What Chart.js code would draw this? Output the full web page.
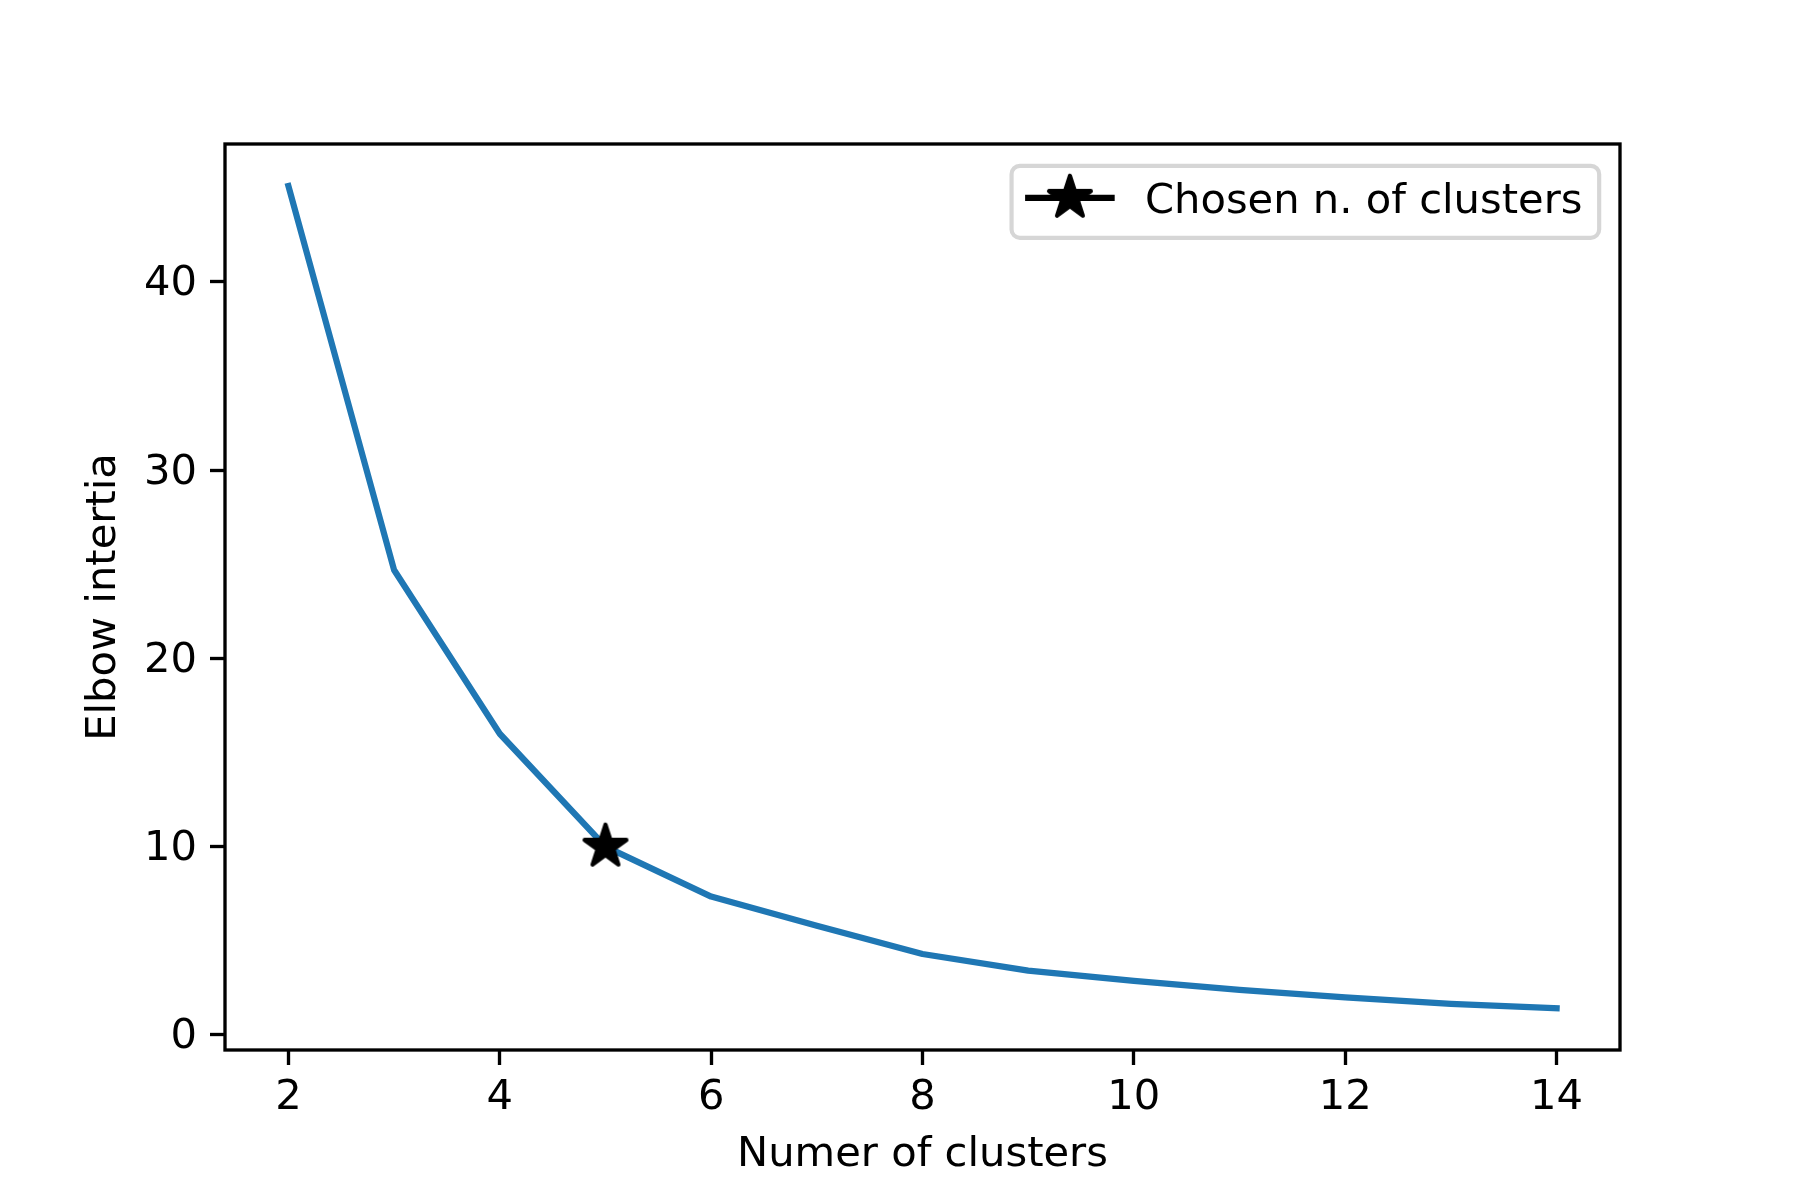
<!DOCTYPE html>
<html>
<head>
<meta charset="utf-8">
<script src="https://cdn.jsdelivr.net/npm/chart.js@4.4.1/dist/chart.umd.min.js"></script>
<style>html,body{margin:0;padding:0;background:#fff}</style>
</head>
<body>
<canvas id="elbow" width="1800" height="1200"></canvas>
<script>
const clusters = [2, 3, 4, 5, 6, 7, 8, 9, 10, 11, 12, 13, 14];
const inertia = [45.1, 24.7, 16.0, 10.0, 7.35, 5.8, 4.3, 3.42, 2.87, 2.39, 2.0, 1.65, 1.42];
const chosenClusters = [5];
const chosenInertia = [10.0];
const xTicks = [2, 4, 6, 8, 10, 12, 14];
const yTicks = [0, 10, 20, 30, 40];

const FS = 41.67;          // 10pt at 300 dpi
const PT = 300 / 72;       // px per point

Chart.defaults.font.family = '"DejaVu Sans", sans-serif';
Chart.defaults.color = '#000';

// filled five-point star like matplotlib's '*' marker
function makeStar(R) {
    const c = document.createElement('canvas');
    const s = Math.ceil(2 * R + 8);
    c.width = s;
    c.height = s;
    const g = c.getContext('2d');
    const r = R * 0.381966;
    g.translate(s / 2, s / 2);
    g.beginPath();
    for (let i = 0; i < 10; i++) {
        const rad = i % 2 === 0 ? R : r;
        const a = -Math.PI / 2 + i * Math.PI / 5;
        const px = rad * Math.cos(a), py = rad * Math.sin(a);
        if (i === 0) g.moveTo(px, py); else g.lineTo(px, py);
    }
    g.closePath();
    g.fillStyle = '#000';
    g.fill();
    g.lineJoin = 'round';
    g.lineWidth = PT;
    g.strokeStyle = '#000';
    g.stroke();
    return c;
}
const star = makeStar(22);

const frameAndLegend = {
    id: 'frameAndLegend',
    afterDraw(chart) {
        const ctx = chart.ctx, area = chart.chartArea;
        ctx.save();
        // axes frame
        ctx.lineWidth = 0.8 * PT;
        ctx.strokeStyle = '#000';
        ctx.strokeRect(area.left, area.top, area.right - area.left, area.bottom - area.top);

        // legend
        const label = chart.data.datasets[0].label;
        ctx.font = FS + 'px "DejaVu Sans"';
        const tw = ctx.measureText(label).width;
        const pad = 0.4 * FS, hl = 2 * FS, htp = 0.8 * FS;
        const w = pad + hl + htp + tw + pad;
        const h = 72;
        const right = area.right - 0.5 * FS;
        const top = area.top + 0.5 * FS + 1;
        const left = right - w;
        const rr = 0.2 * FS;
        ctx.beginPath();
        ctx.roundRect(left, top, w, h, rr);
        ctx.fillStyle = 'rgba(255,255,255,0.8)';
        ctx.fill();
        ctx.lineWidth = PT;
        ctx.strokeStyle = '#d6d6d6';
        ctx.stroke();

        const cy = top + 32;
        ctx.beginPath();
        ctx.moveTo(left + pad, cy);
        ctx.lineTo(left + pad + hl, cy);
        ctx.lineWidth = 1.5 * PT;
        ctx.lineCap = 'square';
        ctx.strokeStyle = '#000';
        ctx.stroke();
        ctx.drawImage(star, left + pad + hl / 2 - star.width / 2, cy - star.height / 2);

        ctx.fillStyle = '#000';
        ctx.textBaseline = 'alphabetic';
        ctx.textAlign = 'left';
        ctx.fillText(label, left + pad + hl + htp, top + 47);
        ctx.restore();
    }
};

const tickFont = { size: FS, lineHeight: 1.2 };
const gridCfg = {
    drawOnChartArea: false,
    drawTicks: true,
    tickLength: 15,
    tickWidth: 0.8 * PT,
    tickColor: '#000'
};

new Chart(document.getElementById('elbow'), {
    type: 'line',
    data: {
        datasets: [
            {
                label: 'Chosen n. of clusters',
                data: chosenClusters.map((x, i) => ({ x: x, y: chosenInertia[i] })),
                showLine: false,
                pointStyle: star,
                pointRadius: 22,
                borderColor: '#000',
                backgroundColor: '#000',
                order: 0
            },
            {
                label: 'inertia',
                data: clusters.map((x, i) => ({ x: x, y: inertia[i] })),
                borderColor: '#1f77b4',
                borderWidth: 1.5 * PT,
                borderCapStyle: 'square',
                borderJoinStyle: 'round',
                pointRadius: 0,
                tension: 0,
                fill: false,
                order: 1
            }
        ]
    },
    options: {
        responsive: false,
        devicePixelRatio: 1,
        animation: false,
        layout: { padding: { top: 144, right: 180, left: 0, bottom: 0 } },
        plugins: {
            legend: { display: false },
            tooltip: { enabled: false }
        },
        scales: {
            x: {
                type: 'linear',
                min: 1.4,
                max: 14.6,
                afterBuildTicks: (s) => { s.ticks = xTicks.map(v => ({ value: v })); },
                afterFit: (s) => { s.height = 150; },
                grid: gridCfg,
                border: { display: false },
                ticks: { padding: 8, font: tickFont, maxRotation: 0, autoSkip: false },
                title: {
                    display: true,
                    text: 'Numer of clusters',
                    font: tickFont,
                    padding: { top: 0, bottom: 20 }
                }
            },
            y: {
                type: 'linear',
                min: -0.8,
                max: 47.33,
                afterBuildTicks: (s) => { s.ticks = yTicks.map(v => ({ value: v })); },
                afterFit: (s) => { s.width = 225; },
                grid: gridCfg,
                border: { display: false },
                ticks: { padding: 13, labelOffset: 2.5, font: tickFont, autoSkip: false },
                title: {
                    display: true,
                    text: 'Elbow intertia',
                    font: tickFont,
                    padding: { top: 79, bottom: 0 }
                }
            }
        }
    },
    plugins: [frameAndLegend]
});
</script>
</body>
</html>
